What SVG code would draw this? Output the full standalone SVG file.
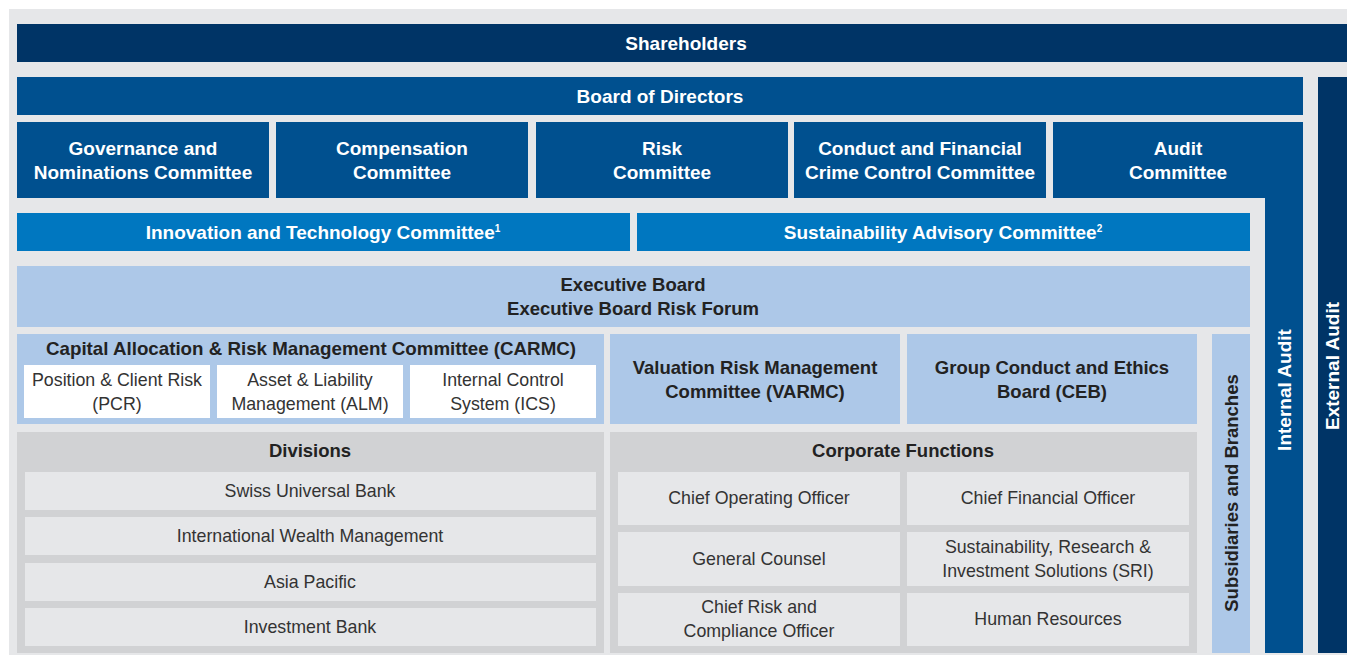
<svg xmlns="http://www.w3.org/2000/svg" width="1347" height="655" viewBox="0 0 1347 655">
<style>
.navy{fill:#003466}
.blue{fill:#00508f}
.bright{fill:#0077c0}
.light{fill:#adc8e8}
.cont{fill:#d1d2d4}
.item{fill:#e6e7e9}
.white{fill:#ffffff}
text{font-family:"Liberation Sans",Arial,sans-serif;text-anchor:middle}
.tw{fill:#ffffff;font-weight:bold;font-size:19px}
.tb{fill:#222222;font-weight:bold;font-size:18.5px}
.tr{fill:#333333;font-size:17.8px}
</style>
<rect x="9" y="9" width="1338" height="646" fill="#e6e7e9"/>
<g id="connectors"/>
<g id="shareholders"><rect class="navy" x="17" y="24" width="1330" height="38"/><text class="tw" x="686" y="50">Shareholders</text></g>
<g id="external-audit"><rect class="navy" x="1318" y="77" width="29" height="576"/><text class="tw" transform="translate(1339,366) rotate(-90)">External Audit</text></g>
<g id="board"><rect class="blue" x="17" y="77" width="1286" height="38"/><text class="tw" x="660" y="103">Board of Directors</text></g>
<g id="governance"><rect class="blue" x="17" y="122" width="252" height="76"/><text class="tw" x="143" y="155">Governance and</text><text class="tw" x="143" y="179">Nominations Committee</text></g>
<g id="compensation"><rect class="blue" x="276" y="122" width="252" height="76"/><text class="tw" x="402" y="155">Compensation</text><text class="tw" x="402" y="179">Committee</text></g>
<g id="risk"><rect class="blue" x="536" y="122" width="252" height="76"/><text class="tw" x="662" y="155">Risk</text><text class="tw" x="662" y="179">Committee</text></g>
<g id="conduct"><rect class="blue" x="794" y="122" width="252" height="76"/><text class="tw" x="920" y="155">Conduct and Financial</text><text class="tw" x="920" y="179">Crime Control Committee</text></g>
<g id="audit-committee"><rect class="blue" x="1053" y="122" width="250" height="76"/><text class="tw" x="1178" y="155">Audit</text><text class="tw" x="1178" y="179">Committee</text></g>
<g id="internal-audit"><rect class="blue" x="1265" y="122" width="38" height="531"/><text class="tw" transform="translate(1291,390) rotate(-90)">Internal Audit</text></g>
<g id="innovation"><rect class="bright" x="17" y="213" width="613" height="38"/><text class="tw" x="323" y="239" font-size="18.5">Innovation and Technology Committee<tspan font-size="10" dy="-7">1</tspan></text></g>
<g id="sustainability"><rect class="bright" x="637" y="213" width="613" height="38"/><text class="tw" x="943" y="239" font-size="18.5">Sustainability Advisory Committee<tspan font-size="10" dy="-7">2</tspan></text></g>
<g id="executive"><rect class="light" x="17" y="266" width="1233" height="61"/><text class="tb" x="633" y="291">Executive Board</text><text class="tb" x="633" y="315">Executive Board Risk Forum</text></g>
<g id="carmc"><rect class="light" x="17" y="334" width="587" height="90"/><text class="tb" x="311" y="355" textLength="530" lengthAdjust="spacingAndGlyphs">Capital Allocation &amp; Risk Management Committee (CARMC)</text>
<rect class="white" x="24" y="365" width="186" height="53"/><text class="tr" x="117" y="386">Position &amp; Client Risk</text><text class="tr" x="117" y="410">(PCR)</text>
<rect class="white" x="217" y="365" width="186" height="53"/><text class="tr" x="310" y="386">Asset &amp; Liability</text><text class="tr" x="310" y="410">Management (ALM)</text>
<rect class="white" x="410" y="365" width="186" height="53"/><text class="tr" x="503" y="386">Internal Control</text><text class="tr" x="503" y="410">System (ICS)</text></g>
<g id="varmc"><rect class="light" x="610" y="334" width="290" height="90"/><text class="tb" x="755" y="374">Valuation Risk Management</text><text class="tb" x="755" y="398">Committee (VARMC)</text></g>
<g id="ceb"><rect class="light" x="907" y="334" width="290" height="90"/><text class="tb" x="1052" y="374">Group Conduct and Ethics</text><text class="tb" x="1052" y="398">Board (CEB)</text></g>
<g id="subsidiaries"><rect class="light" x="1212" y="334" width="38" height="319"/><text class="tb" transform="translate(1238,493) rotate(-90)">Subsidiaries and Branches</text></g>
<g id="divisions"><rect class="cont" x="17" y="432" width="587" height="221"/><text class="tb" x="310" y="457">Divisions</text>
<rect class="item" x="25" y="472" width="571" height="38"/><text class="tr" x="310" y="497">Swiss Universal Bank</text>
<rect class="item" x="25" y="517" width="571" height="38"/><text class="tr" x="310" y="542">International Wealth Management</text>
<rect class="item" x="25" y="563" width="571" height="38"/><text class="tr" x="310" y="588">Asia Pacific</text>
<rect class="item" x="25" y="608" width="571" height="38"/><text class="tr" x="310" y="633">Investment Bank</text></g>
<g id="corporate"><rect class="cont" x="610" y="432" width="587" height="221"/><text class="tb" x="903" y="457">Corporate Functions</text>
<rect class="item" x="618" y="472" width="282" height="53"/><text class="tr" x="759" y="504">Chief Operating Officer</text>
<rect class="item" x="907" y="472" width="282" height="53"/><text class="tr" x="1048" y="504">Chief Financial Officer</text>
<rect class="item" x="618" y="532" width="282" height="54"/><text class="tr" x="759" y="565">General Counsel</text>
<rect class="item" x="907" y="532" width="282" height="54"/><text class="tr" x="1048" y="553">Sustainability, Research &amp;</text><text class="tr" x="1048" y="577">Investment Solutions (SRI)</text>
<rect class="item" x="618" y="593" width="282" height="53"/><text class="tr" x="759" y="613">Chief Risk and</text><text class="tr" x="759" y="637">Compliance Officer</text>
<rect class="item" x="907" y="593" width="282" height="53"/><text class="tr" x="1048" y="625">Human Resources</text></g>
</svg>
